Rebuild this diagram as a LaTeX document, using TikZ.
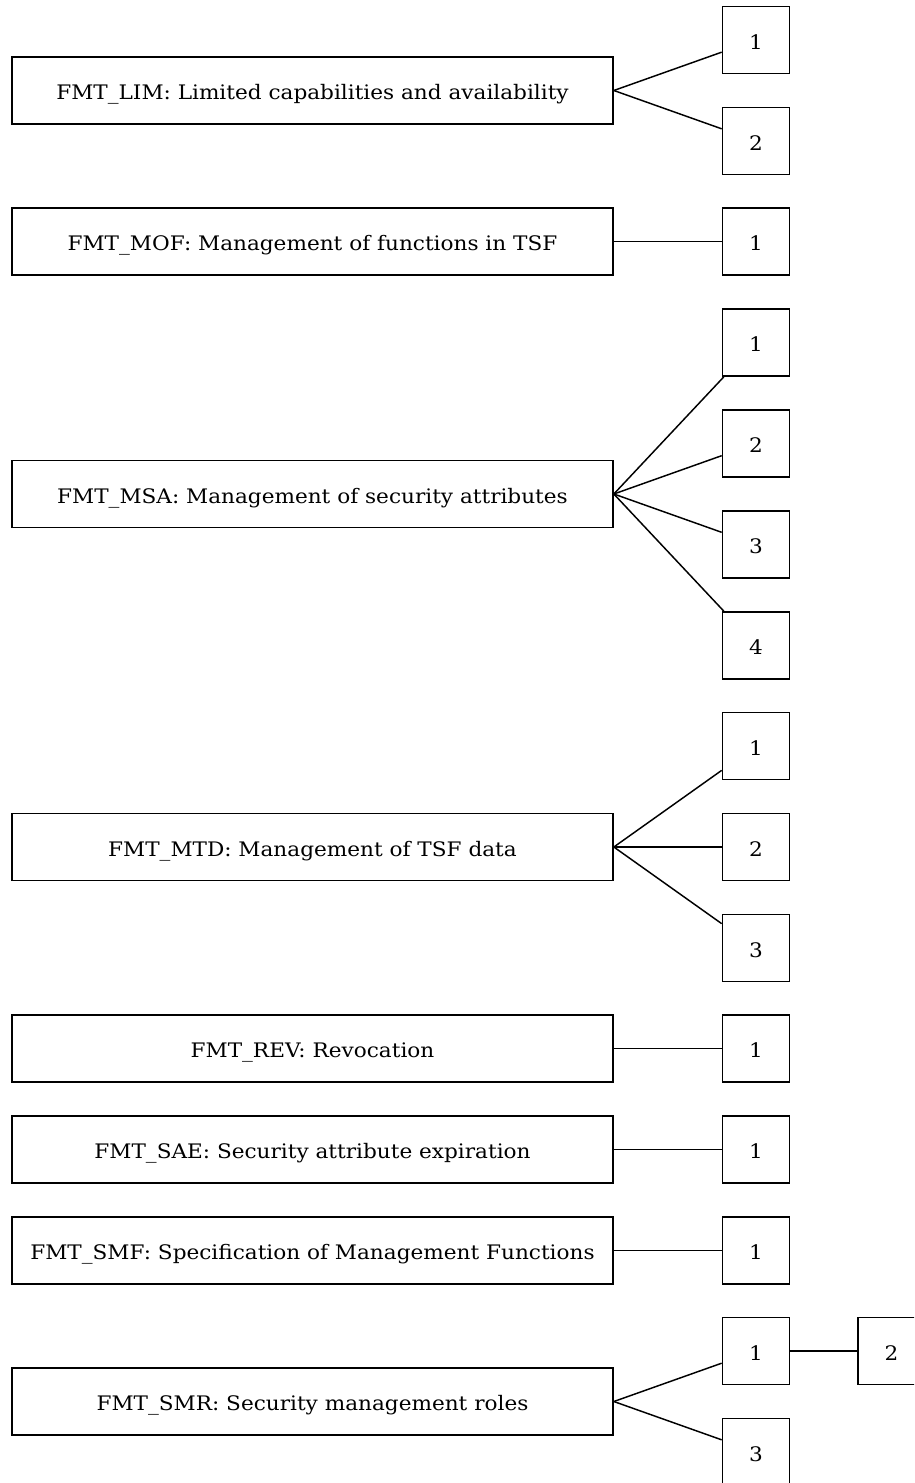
\documentclass[tikz,border=0pt]{standalone}
\usepackage{fontspec}
\setmainfont{DejaVu Serif}[FakeStretch=1.08]
\usepackage{tikz}

\begin{document}
\begin{tikzpicture}[x=0.75pt, y=-0.75pt, every node/.style={rectangle, draw, line width=1.25pt, inner sep=0pt, text height=13.9pt, text depth=0pt, font=\fontsize{15}{18}\selectfont}, family/.style={minimum width=450.75pt, minimum height=50.25pt}, comp/.style={minimum size=50.25pt}]
        \useasboundingbox (0,0) rectangle (914,1483);
        \clip (0,0) rectangle (914,1483);

        % Nodes
        \node[family] (LIM) at (312.5,90.5) {FMT\_LIM: Limited capabilities and availability};
        \node[comp] (LIM1) at (756,40) {1};
        \node[comp] (LIM2) at (756,141) {2};

        \node[family] (MOF) at (312.5,241.5) {FMT\_MOF: Management of functions in TSF};
        \node[comp] (MOF1) at (756,241.5) {1};

        \node[family] (MSA) at (312.5,494) {FMT\_MSA: Management of security attributes};
        \node[comp] (MSA1) at (756,342.5) {1};
        \node[comp] (MSA2) at (756,443.5) {2};
        \node[comp] (MSA3) at (756,544.5) {3};
        \node[comp] (MSA4) at (756,645.5) {4};

        \node[family] (MTD) at (312.5,847) {FMT\_MTD: Management of TSF data};
        \node[comp] (MTD1) at (756,746) {1};
        \node[comp] (MTD2) at (756,847) {2};
        \node[comp] (MTD3) at (756,948) {3};

        \node[family] (REV) at (312.5,1048.5) {FMT\_REV: Revocation};
        \node[comp] (REV1) at (756,1048.5) {1};

        \node[family] (SAE) at (312.5,1149.5) {FMT\_SAE: Security attribute expiration};
        \node[comp] (SAE1) at (756,1149.5) {1};

        \node[family] (SMF) at (312.5,1250.5) {FMT\_SMF: Specification of Management Functions};
        \node[comp] (SMF1) at (756,1250.5) {1};

        \node[family] (SMR) at (312.5,1401.5) {FMT\_SMR: Security management roles};
        \node[comp] (SMR1) at (756,1351) {1};
        \node[comp] (SMR2) at (891.5,1351) {2};
        \node[comp] (SMR3) at (756,1452) {3};

        % Edges
        \draw[line width=1.1pt] (LIM.east) -- (LIM1);
        \draw[line width=1.1pt] (LIM.east) -- (LIM2);
        \draw[line width=1.1pt] (MOF) -- (MOF1);
        \draw[line width=1.1pt] (MSA.east) -- (MSA1);
        \draw[line width=1.1pt] (MSA.east) -- (MSA2);
        \draw[line width=1.1pt] (MSA.east) -- (MSA3);
        \draw[line width=1.1pt] (MSA.east) -- (MSA4);
        \draw[line width=1.1pt] (MTD.east) -- (MTD1);
        \draw[line width=1.1pt] (MTD.east) -- (MTD2);
        \draw[line width=1.1pt] (MTD.east) -- (MTD3);
        \draw[line width=1.1pt] (REV) -- (REV1);
        \draw[line width=1.1pt] (SAE) -- (SAE1);
        \draw[line width=1.1pt] (SMF) -- (SMF1);
        \draw[line width=1.1pt] (SMR.east) -- (SMR1);
        \draw[line width=1.1pt] (SMR.east) -- (SMR3);
        \draw[line width=1.1pt] (SMR1) -- (SMR2);
    \end{tikzpicture}
\end{document}
